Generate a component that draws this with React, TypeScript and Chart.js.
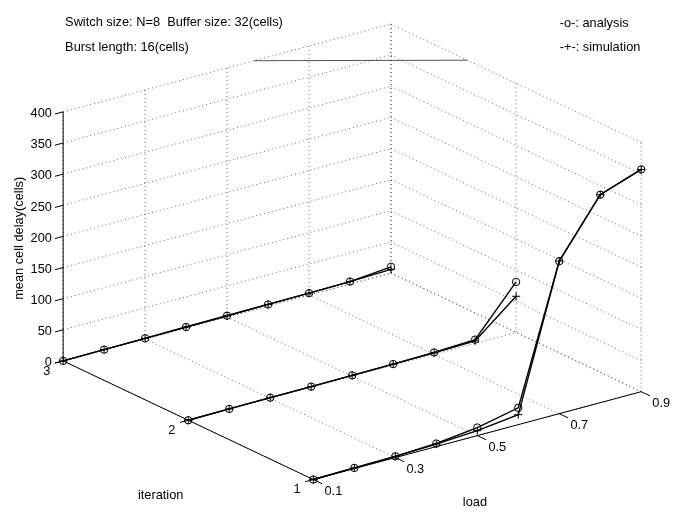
import React, { useEffect, useRef } from "react";
import { Chart, registerables } from "chart.js";

Chart.register(...registerables);

// ---- data ----
const loads = [0.1, 0.2, 0.3, 0.4, 0.5, 0.6, 0.7, 0.8, 0.9];
const iterations = [1, 2, 3];

const analysisIter1 = [0, 1, 2, 5, 13, 27, 245, 334, 357];
const simulationIter1 = [0, 1, 2, 4, 8, 16, 245, 334, 357];
const analysisIter2 = [0, 0.5, 1, 1, 1.5, 2, 3, 6, 81];
const simulationIter2 = [0, 0.5, 1, 1, 1.5, 2, 2.5, 4, 58];
const analysisIter3 = [0, 0.5, 1, 1.5, 2, 2.5, 3, 4, 10];
const simulationIter3 = [0, 0.5, 1, 1.5, 2, 2.5, 3, 4, 6];

const loadTicks = [0.1, 0.3, 0.5, 0.7, 0.9];
const loadTickLabels = ["0.1", "0.3", "0.5", "0.7", "0.9"];
const iterTicks = [1, 2, 3];
const iterTickLabels = ["1", "2", "3"];
const zTicks = [0, 50, 100, 150, 200, 250, 300, 350, 400];
const zTickLabels = ["0", "50", "100", "150", "200", "250", "300", "350", "400"];

const titleLines = ["Switch size: N=8  Buffer size: 32(cells)", "Burst length: 16(cells)"];
const legendLines = ["-o-: analysis", "-+-: simulation"];
const loadTitle = "load";
const iterTitle = "iteration";
const zTitle = "mean cell delay(cells)";

// stray rule near the top of the scan, in data space (load, iteration, delay)
const topRule = [
  [0.566, 3, 400],
  [0.9, 2.39, 400],
];

// ---- view (orthographic projection into page pixels) ----
const W = 674;
const H = 512;
const LOAD_MIN = 0.1, LOAD_MAX = 0.9;
const IT_MIN = 1, IT_MAX = 3;
const Z_MIN = 0, Z_MAX = 400;
const FS = 12.8;
const FONT = `${FS}px "Liberation Sans", Arial, Helvetica, sans-serif`;

function proj(l: number, it: number, z: number) {
  return {
    x: 59 + (l - 0.1) * 416 + (3 - it) * 127,
    y: 363 - (l - 0.1) * 112 + (3 - it) * 60.5 - z * 0.635,
  };
}

function seg(a: number[], b: number[], style: any, order: number) {
  return {
    type: "scatter" as const,
    data: [proj(a[0], a[1], a[2]), proj(b[0], b[1], b[2])],
    showLine: true,
    pointRadius: 0,
    borderWidth: 1,
    order,
    clip: false,
    ...style,
  };
}

function buildDatasets() {
  const ds: any[] = [];
  const dotted = { borderColor: "rgba(70,70,70,0.8)", borderDash: [1, 3] };
  const solid = { borderColor: "#000" };
  // back wall (iteration = 3)
  loadTicks.forEach((l) => ds.push(seg([l, IT_MAX, Z_MIN], [l, IT_MAX, Z_MAX], dotted, 5)));
  zTicks.forEach((z) => ds.push(seg([LOAD_MIN, IT_MAX, z], [LOAD_MAX, IT_MAX, z], dotted, 5)));
  // side wall (load = 0.9)
  iterTicks.forEach((it) => ds.push(seg([LOAD_MAX, it, Z_MIN], [LOAD_MAX, it, Z_MAX], dotted, 5)));
  zTicks.forEach((z) => ds.push(seg([LOAD_MAX, IT_MIN, z], [LOAD_MAX, IT_MAX, z], dotted, 5)));
  // floor
  loadTicks.forEach((l) => ds.push(seg([l, IT_MIN, Z_MIN], [l, IT_MAX, Z_MIN], dotted, 5)));
  iterTicks.forEach((it) => ds.push(seg([LOAD_MIN, it, Z_MIN], [LOAD_MAX, it, Z_MIN], dotted, 5)));
  // axes
  ds.push(seg([LOAD_MIN, IT_MAX, Z_MIN], [LOAD_MIN, IT_MAX, Z_MAX], solid, 3));
  ds.push(seg([LOAD_MIN, IT_MAX, Z_MIN], [LOAD_MIN, IT_MIN, Z_MIN], solid, 3));
  ds.push(seg([LOAD_MIN, IT_MIN, Z_MIN], [LOAD_MAX, IT_MIN, Z_MIN], solid, 3));
  // ticks
  zTicks.forEach((z) => ds.push(seg([LOAD_MIN, IT_MAX, z], [LOAD_MIN - 0.02, IT_MAX, z], solid, 3)));
  loadTicks.forEach((l) => ds.push(seg([l, IT_MIN, Z_MIN], [l, IT_MIN - 0.07, Z_MIN], solid, 3)));
  iterTicks.forEach((it) => ds.push(seg([LOAD_MIN, it, Z_MIN], [LOAD_MIN - 0.02, it, Z_MIN], solid, 3)));
  // stray rule
  ds.push(seg(topRule[0], topRule[1], { borderColor: "rgba(40,40,40,0.8)" }, 4));

  const series: [number, number[], number[]][] = [
    [1, analysisIter1, simulationIter1],
    [2, analysisIter2, simulationIter2],
    [3, analysisIter3, simulationIter3],
  ];
  series.forEach(([it, ana, sim]) => {
    ds.push({
      type: "scatter",
      label: `analysis ${it}`,
      data: loads.map((l, i) => proj(l, it, ana[i])),
      showLine: true,
      borderColor: "#000",
      borderWidth: 1.4,
      pointStyle: "circle",
      pointRadius: 3.7,
      pointBorderWidth: 1,
      pointBorderColor: "#000",
      pointBackgroundColor: "rgba(0,0,0,0)",
      order: 0,
      clip: false,
    });
    ds.push({
      type: "scatter",
      label: `simulation ${it}`,
      data: loads.map((l, i) => proj(l, it, sim[i])),
      showLine: true,
      borderColor: "#000",
      borderWidth: 1.4,
      pointStyle: "cross",
      pointRadius: 4,
      pointBorderWidth: 1,
      pointBorderColor: "#000",
      order: 0,
      clip: false,
    });
  });
  return ds;
}

const textPlugin = {
  id: "texts3d",
  afterDatasetsDraw(chart: any) {
    const ctx = chart.ctx as CanvasRenderingContext2D;
    const xs = chart.scales.x;
    const ys = chart.scales.y;
    const px = (p: { x: number; y: number }) => [xs.getPixelForValue(p.x), ys.getPixelForValue(p.y)];
    ctx.save();
    ctx.fillStyle = "#000";
    ctx.font = FONT;
    ctx.textBaseline = "middle";

    // z tick labels
    ctx.textAlign = "right";
    zTicks.forEach((z, i) => {
      const [x, y] = px(proj(LOAD_MIN - 0.025, IT_MAX, z));
      ctx.fillText(zTickLabels[i], x - 1, y - 1);
    });
    // load tick labels
    ctx.textAlign = "center";
    loadTicks.forEach((l, i) => {
      const [x, y] = px(proj(l, IT_MIN - 0.16, Z_MIN));
      ctx.fillText(loadTickLabels[i], x, y + 2);
    });
    // iteration tick labels
    iterTicks.forEach((it, i) => {
      const [x, y] = px(proj(LOAD_MIN - 0.04, it, Z_MIN));
      ctx.fillText(iterTickLabels[i], x, y + 6);
    });
    // axis titles
    ctx.fillText(loadTitle, xs.getPixelForValue(477), ys.getPixelForValue(507));
    ctx.fillText(iterTitle, xs.getPixelForValue(158), ys.getPixelForValue(500));
    ctx.save();
    ctx.translate(xs.getPixelForValue(15), ys.getPixelForValue(238));
    ctx.rotate(-Math.PI / 2);
    ctx.fillText(zTitle, 0, 0);
    ctx.restore();
    // title lines
    ctx.textAlign = "left";
    ctx.fillText(titleLines[0], xs.getPixelForValue(61), ys.getPixelForValue(18));
    ctx.fillText(titleLines[1], xs.getPixelForValue(61), ys.getPixelForValue(43));
    // legend lines
    ctx.fillText(legendLines[0], xs.getPixelForValue(563), ys.getPixelForValue(19));
    ctx.fillText(legendLines[1], xs.getPixelForValue(563), ys.getPixelForValue(43));
    ctx.restore();
  },
};

export default function App() {
  const ref = useRef<HTMLCanvasElement | null>(null);
  useEffect(() => {
    document.body.style.margin = "0";
    const canvas = ref.current;
    if (!canvas) return;
    const chart = new Chart(canvas, {
      type: "scatter",
      data: { datasets: buildDatasets() },
      options: {
        animation: false,
        responsive: false,
        devicePixelRatio: 1,
        layout: { padding: 0 },
        events: [],
        plugins: { legend: { display: false }, tooltip: { enabled: false }, title: { display: false } },
        scales: {
          x: { type: "linear", min: 0, max: W, display: false },
          y: { type: "linear", min: 0, max: H, reverse: true, display: false },
        },
      },
      plugins: [textPlugin],
    });
    return () => chart.destroy();
  }, []);
  return (
    <div style={{ width: W, height: H, background: "#fff" }}>
      <canvas ref={ref} width={W} height={H} style={{ display: "block" }} />
    </div>
  );
}
